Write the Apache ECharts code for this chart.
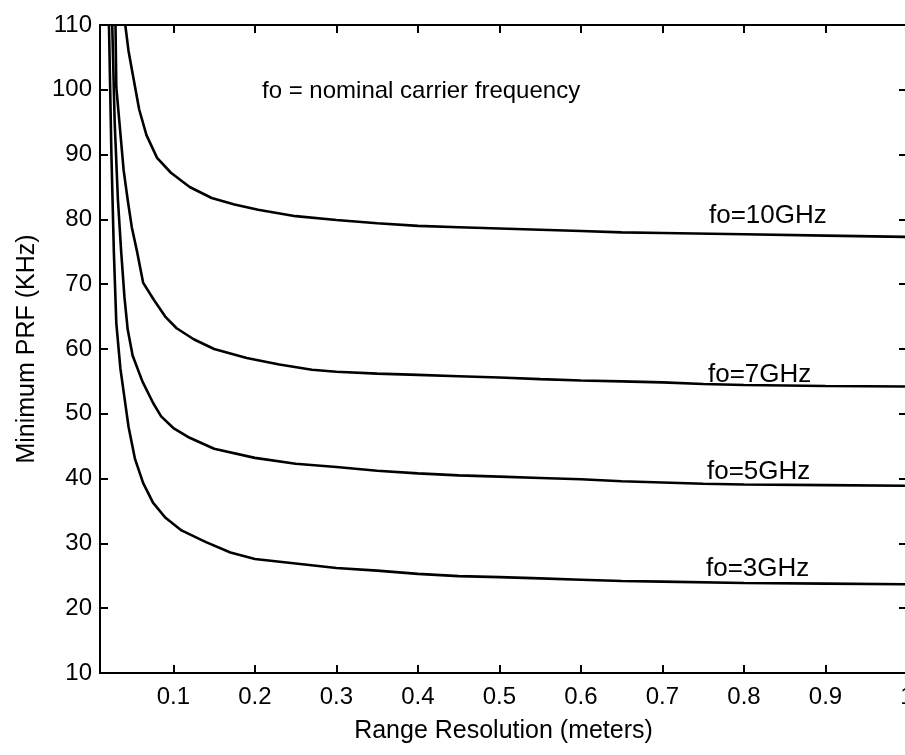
<!DOCTYPE html>
<html>
<head>
<meta charset="utf-8">
<title>Minimum PRF vs Range Resolution</title>
<script src="https://cdn.jsdelivr.net/npm/echarts@6/dist/echarts.min.js"></script>
<style>
html, body { margin: 0; padding: 0; background: #fff; }
#chart { width: 905px; height: 755px; }
</style>
</head>
<body>
<div id="chart"></div>
<script>
// range resolution (meters) and minimum PRF (KHz)
var res3 = [0.021, 0.024, 0.027, 0.03, 0.035, 0.04, 0.045, 0.053, 0.063, 0.075, 0.09, 0.11, 0.14, 0.17, 0.2, 0.25, 0.3, 0.35, 0.4, 0.45, 0.5, 0.55, 0.6, 0.65, 0.7, 0.8, 0.9, 1.0]
var prf3 = [110, 90, 75, 64, 57, 52.5, 48, 43, 39.3, 36.3, 34, 32, 30.2, 28.6, 27.6, 26.9, 26.2, 25.8, 25.3, 24.95, 24.8, 24.6, 24.4, 24.2, 24.1, 23.9, 23.8, 23.7]

var res5 = [0.025, 0.028, 0.032, 0.036, 0.04, 0.044, 0.05, 0.062, 0.075, 0.085, 0.1, 0.12, 0.15, 0.2, 0.25, 0.3, 0.35, 0.4, 0.45, 0.5, 0.55, 0.6, 0.65, 0.7, 0.75, 0.8, 0.9, 1.0]
var prf5 = [110, 95, 83, 75, 68, 63, 59, 55, 51.7, 49.6, 47.8, 46.3, 44.6, 43.2, 42.3, 41.8, 41.2, 40.8, 40.5, 40.3, 40.1, 39.9, 39.6, 39.4, 39.2, 39.1, 39.0, 38.9]

var res7 = [0.029, 0.03, 0.039, 0.044, 0.049, 0.055, 0.063, 0.076, 0.09, 0.104, 0.125, 0.15, 0.19, 0.23, 0.27, 0.3, 0.35, 0.4, 0.45, 0.5, 0.55, 0.6, 0.65, 0.7, 0.75, 0.8, 0.9, 1.0]
var prf7 = [110, 100.4, 87.6, 83, 78.8, 75.3, 70.2, 67.6, 65, 63.2, 61.5, 60, 58.6, 57.6, 56.8, 56.5, 56.2, 56.0, 55.8, 55.6, 55.35, 55.15, 55.0, 54.85, 54.6, 54.45, 54.3, 54.2]

var res10 = [0.041, 0.045, 0.05, 0.058, 0.067, 0.08, 0.097, 0.12, 0.147, 0.175, 0.204, 0.25, 0.3, 0.35, 0.4, 0.45, 0.5, 0.55, 0.6, 0.65, 0.7, 0.8, 0.9, 1.0]
var prf10 = [110, 106, 102.5, 97, 93, 89.5, 87.2, 85, 83.3, 82.3, 81.5, 80.5, 79.9, 79.4, 79.0, 78.8, 78.6, 78.4, 78.2, 78.0, 77.9, 77.7, 77.5, 77.3]

var curveNames = ['fo=3GHz', 'fo=5GHz', 'fo=7GHz', 'fo=10GHz']

var xMin = 0.01
var xMax = 1
var yMin = 10
var yMax = 110
var yStep = 10

var font = 'Liberation Sans, Arial, sans-serif'

function pairs (xs, ys) {
  return xs.map(function (x, i) { return [x, ys[i]] })
}

function curve (name, xs, ys) {
  return {
    name: name,
    type: 'line',
    xAxisIndex: 0,
    yAxisIndex: 0,
    showSymbol: false,
    symbol: 'none',
    clip: true,
    lineStyle: { color: '#000', width: 2.6 },
    data: pairs(xs, ys)
  }
}

var tickStyle = { show: true, inside: true, length: 8, lineStyle: { color: '#000', width: 2 } }
var lineStyle = { show: true, onZero: false, lineStyle: { color: '#000', width: 2 } }

var chart = echarts.init(document.getElementById('chart'), null, { renderer: 'canvas' })

chart.setOption({
  animation: false,
  backgroundColor: '#fff',
  // right edge of the frame sits just past the picture edge
  grid: { left: 100, right: -2, top: 25, bottom: 82, containLabel: false, outerBoundsMode: 'none' },
  xAxis: [
    { // bottom axis
      type: 'value',
      min: xMin,
      max: xMax,
      splitNumber: 10,
      name: 'Range Resolution (meters)',
      nameLocation: 'middle',
      nameGap: 46,
      nameTextStyle: { color: '#000', fontFamily: font, fontSize: 25 },
      axisLine: lineStyle,
      axisTick: tickStyle,
      splitLine: { show: false },
      axisLabel: { color: '#000', fontFamily: font, fontSize: 24, margin: 12, showMinLabel: false }
    },
    { // top frame
      type: 'value',
      position: 'top',
      min: xMin,
      max: xMax,
      splitNumber: 10,
      axisLine: lineStyle,
      axisTick: tickStyle,
      splitLine: { show: false },
      axisLabel: { show: false }
    }
  ],
  yAxis: [
    { // left axis
      type: 'value',
      min: yMin,
      max: yMax,
      interval: yStep,
      name: 'Minimum PRF (KHz)',
      nameLocation: 'middle',
      nameRotate: 90,
      nameGap: 60,
      nameTextStyle: { color: '#000', fontFamily: font, fontSize: 25 },
      axisLine: lineStyle,
      axisTick: tickStyle,
      splitLine: { show: false },
      axisLabel: { color: '#000', fontFamily: font, fontSize: 24, margin: 8 }
    },
    { // right frame
      type: 'value',
      position: 'right',
      min: yMin,
      max: yMax,
      interval: yStep,
      axisLine: lineStyle,
      axisTick: tickStyle,
      splitLine: { show: false },
      axisLabel: { show: false }
    }
  ],
  series: [
    curve(curveNames[0], res3, prf3),
    curve(curveNames[1], res5, prf5),
    curve(curveNames[2], res7, prf7),
    curve(curveNames[3], res10, prf10)
  ],
  // text notes on the plot
  graphic: [
    { type: 'text', left: 262, top: 79, style: { text: 'fo = nominal carrier frequency', font: '24px ' + font, fill: '#000' } },
    { type: 'text', left: 709, top: 203, style: { text: curveNames[3], font: '26px ' + font, fill: '#000' } },
    { type: 'text', left: 708, top: 362, style: { text: curveNames[2], font: '26px ' + font, fill: '#000' } },
    { type: 'text', left: 707, top: 459, style: { text: curveNames[1], font: '26px ' + font, fill: '#000' } },
    { type: 'text', left: 706, top: 556, style: { text: curveNames[0], font: '26px ' + font, fill: '#000' } }
  ]
})
</script>
</body>
</html>
